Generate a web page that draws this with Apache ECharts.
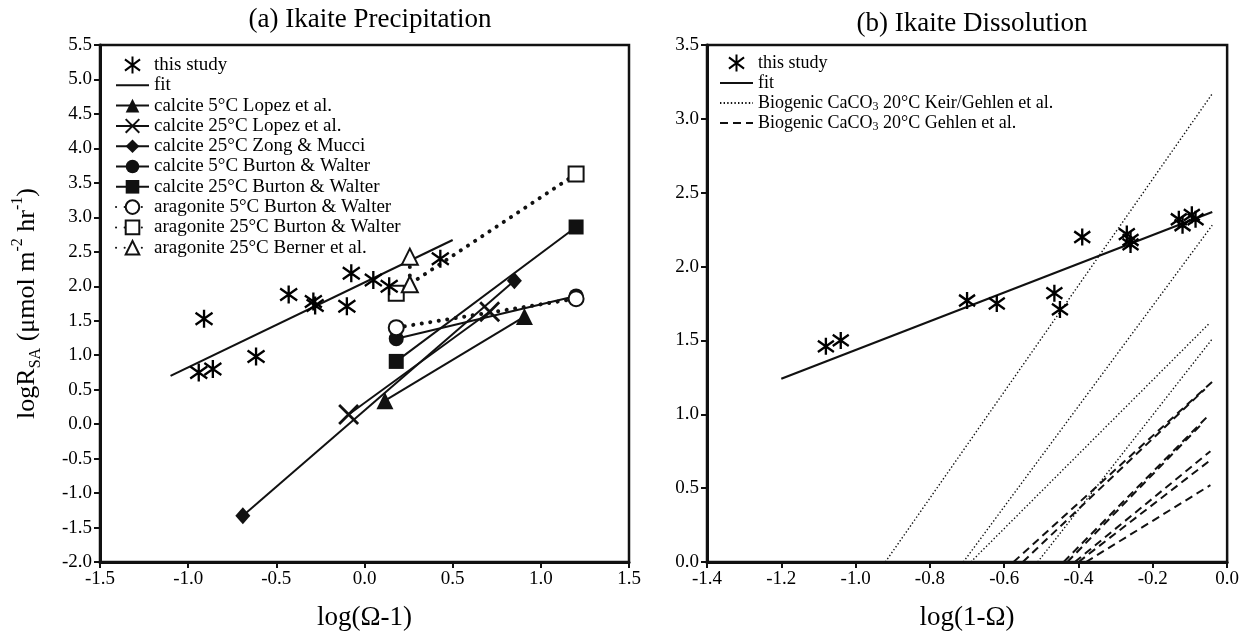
<!DOCTYPE html>
<html>
<head>
<meta charset="utf-8">
<script src="https://cdn.jsdelivr.net/npm/echarts@6/dist/echarts.min.js"></script>
<style>
  html, body { margin: 0; padding: 0; background: #fff; }
  #chart { width: 1242px; height: 636px; }
</style>
</head>
<body>
<div id="chart"></div>
<script>
// ---------- (a) Ikaite precipitation: log(Ω-1) vs logR_SA ----------
const precipStudyX = [-0.94, -0.86, -0.91, -0.615, -0.43, -0.29, -0.28, -0.10, -0.075, 0.05, 0.14, 0.43];
const precipStudyY = [0.75, 0.80, 1.53, 0.98, 1.88, 1.78, 1.72, 1.71, 2.19, 2.09, 2.00, 2.40];
const precipFitX = [-1.10, 0.50];
const precipFitY = [0.70, 2.67];
const calcite5LopezX = [0.116, 0.907];
const calcite5LopezY = [0.34, 1.56];
const calcite25LopezX = [-0.09, 0.71];
const calcite25LopezY = [0.14, 1.63];
const calcite25ZongX = [-0.69, 0.85];
const calcite25ZongY = [-1.33, 2.08];
const calcite5BurtonX = [0.18, 1.20];
const calcite5BurtonY = [1.24, 1.86];
const calcite25BurtonX = [0.18, 1.20];
const calcite25BurtonY = [0.91, 2.86];
const aragonite5BurtonX = [0.18, 1.20];
const aragonite5BurtonY = [1.40, 1.82];
const aragonite25BurtonX = [0.18, 1.20];
const aragonite25BurtonY = [1.90, 3.63];
const aragonite25BernerX = [0.257, 0.257];
const aragonite25BernerY = [2.03, 2.43];

// ---------- (b) Ikaite dissolution: log(1-Ω) vs logR_SA ----------
const dissStudyX = [-1.08, -1.04, -0.70, -0.62, -0.465, -0.45, -0.39, -0.27, -0.26, -0.26, -0.13, -0.12, -0.095, -0.085];
const dissStudyY = [1.46, 1.50, 1.77, 1.75, 1.82, 1.71, 2.20, 2.22, 2.18, 2.15, 2.32, 2.28, 2.35, 2.32];
const dissFitX = [-1.20, -0.04];
const dissFitY = [1.24, 2.37];
// Keir/Gehlen biogenic CaCO3 rate laws: [x0, y0, x1, y1]
const keirLines = [
  [-0.92, 0, -0.04, 3.17],
  [-0.71, 0, -0.04, 2.28],
  [-0.69, 0, -0.05, 1.61],
  [-0.51, 0, -0.04, 1.51]
];
// Gehlen biogenic CaCO3 rate laws: [x0, y0, x1, y1]
const gehlenLines = [
  [-0.575, 0, -0.04, 1.22],
  [-0.55, 0, -0.06, 1.17],
  [-0.44, 0, -0.055, 0.98],
  [-0.43, 0, -0.07, 0.93],
  [-0.41, 0, -0.045, 0.75],
  [-0.40, 0, -0.05, 0.68],
  [-0.38, 0, -0.045, 0.52]
];

const precipTicksY = { min: -2.0, max: 5.5, interval: 0.5 };
const precipTicksX = { min: -1.5, max: 1.5, interval: 0.5 };
const dissTicksY = { min: 0.0, max: 3.5, interval: 0.5 };
const dissTicksX = { min: -1.4, max: 0.0, interval: 0.2 };

const SERIF = '"Liberation Serif", "Times New Roman", "DejaVu Serif", serif';
const INK = '#111';
const STAR = 'path://M0,3 L16,15 M16,3 L0,15 M8,0 L8,18';
const CROSS = 'path://M0,0 L10,10 M10,0 L0,10';

function pts(xs, ys) { return xs.map((x, i) => [x, ys[i]]); }
function fmt1(v) { return (Math.abs(v) < 1e-9 ? 0 : v).toFixed(1); }

const chart = echarts.init(document.getElementById('chart'), null, { renderer: 'canvas' });

function axisCommon(t) {
  return {
    type: 'value', min: t.min, max: t.max, interval: t.interval,
    axisLine: { show: true, onZero: false, lineStyle: { color: INK, width: 3 } },
    axisTick: { show: true, inside: false, length: 6, lineStyle: { color: INK, width: 2 } },
    splitLine: { show: false },
    axisLabel: { color: '#000', fontFamily: SERIF, fontSize: 19, formatter: fmt1 }
  };
}

function markerLine(name, xs, ys, symbol, size, opts) {
  opts = opts || {};
  const empty = symbol.indexOf('empty') === 0;
  return {
    type: 'line', name: name, xAxisIndex: 0, yAxisIndex: 0,
    data: pts(xs, ys), symbol: symbol, symbolSize: size, showSymbol: true,
    color: INK,
    lineStyle: Object.assign({ color: INK, width: 2 }, opts.lineStyle || {}),
    itemStyle: opts.itemStyle || (empty ? { color: INK, borderColor: INK, borderWidth: 2.5 } : { color: INK }),
    z: opts.z || 3
  };
}

const DOTS = { type: [0.1, 8.5], width: 4, cap: 'round' };
const STAR_STYLE = { color: 'transparent', borderColor: '#000', borderWidth: 2.4, opacity: 1 };

const series = [
  {
    type: 'scatter', name: 'this study', xAxisIndex: 0, yAxisIndex: 0,
    data: pts(precipStudyX, precipStudyY), symbol: STAR, symbolSize: [17, 18],
    itemStyle: STAR_STYLE, z: 5
  },
  {
    type: 'line', name: 'fit', xAxisIndex: 0, yAxisIndex: 0,
    data: pts(precipFitX, precipFitY), showSymbol: false, symbol: 'circle',
    itemStyle: { color: 'transparent' }, lineStyle: { color: INK, width: 2.2 }, z: 2
  },
  markerLine('calcite 5°C Lopez et al.', calcite5LopezX, calcite5LopezY, 'triangle', 17),
  markerLine('calcite 25°C Lopez et al.', calcite25LopezX, calcite25LopezY, CROSS, 19,
    { itemStyle: { color: 'transparent', borderColor: INK, borderWidth: 2.8 } }),
  markerLine('calcite 25°C Zong & Mucci', calcite25ZongX, calcite25ZongY, 'diamond', [15, 17]),
  markerLine('calcite 5°C Burton & Walter', calcite5BurtonX, calcite5BurtonY, 'circle', 15),
  markerLine('calcite 25°C Burton & Walter', calcite25BurtonX, calcite25BurtonY, 'rect', 15),
  markerLine('aragonite 5°C Burton & Walter', aragonite5BurtonX, aragonite5BurtonY, 'emptyCircle', 15,
    { lineStyle: DOTS, z: 4 }),
  markerLine('aragonite 25°C Burton & Walter', aragonite25BurtonX, aragonite25BurtonY, 'emptyRect', 15,
    { lineStyle: DOTS, z: 4 }),
  markerLine('aragonite 25°C Berner et al.', aragonite25BernerX, aragonite25BernerY, 'emptyTriangle', 16,
    { lineStyle: DOTS, z: 4 }),

  {
    type: 'scatter', name: 'this study', xAxisIndex: 1, yAxisIndex: 1,
    data: pts(dissStudyX, dissStudyY), symbol: STAR, symbolSize: [16, 17],
    itemStyle: STAR_STYLE, z: 5
  },
  {
    type: 'line', name: 'fit', xAxisIndex: 1, yAxisIndex: 1,
    data: pts(dissFitX, dissFitY), showSymbol: false, symbol: 'circle',
    itemStyle: { color: 'transparent' }, lineStyle: { color: INK, width: 2.2 }, z: 2
  }
];

keirLines.forEach(l => series.push({
  type: 'line', name: 'Biogenic CaCO3 20°C Keir/Gehlen et al.', xAxisIndex: 1, yAxisIndex: 1,
  data: [[l[0], l[1]], [l[2], l[3]]], showSymbol: false, symbol: 'circle',
  itemStyle: { color: 'transparent' },
  lineStyle: { color: INK, width: 1.4, type: [1.4, 2.2] }, z: 2
}));
gehlenLines.forEach(l => series.push({
  type: 'line', name: 'Biogenic CaCO3 20°C Gehlen et al.', xAxisIndex: 1, yAxisIndex: 1,
  data: [[l[0], l[1]], [l[2], l[3]]], showSymbol: false, symbol: 'circle',
  itemStyle: { color: 'transparent' },
  lineStyle: { color: INK, width: 2, type: [8, 5] }, z: 2
}));

function legendText(size) {
  return {
    color: '#000', fontFamily: SERIF, fontSize: size, lineHeight: 20,
    rich: {
      n: { fontFamily: SERIF, fontSize: size, lineHeight: 20, color: '#000' },
      s: { fontFamily: SERIF, fontSize: 12, lineHeight: 12, verticalAlign: 'bottom', color: '#000' }
    }
  };
}
function legendFmt(name) {
  const i = name.indexOf('CaCO3');
  if (i < 0) return name;
  return '{n|' + name.slice(0, i) + 'CaCO}{s|3}{n|' + name.slice(i + 5) + '}';
}

const TITLE_STYLE = { fontFamily: SERIF, fontSize: 27, fontWeight: 'normal', color: '#000' };
const NAME_STYLE = { fontFamily: SERIF, fontSize: 27, color: '#000' };

const option = {
  animation: false,
  backgroundColor: '#fff',
  textStyle: { fontFamily: SERIF },
  title: [
    { text: '(a) Ikaite Precipitation', left: 365, top: 1, textAlign: 'center', textStyle: TITLE_STYLE },
    { text: '(b) Ikaite Dissolution', left: 967, top: 5, textAlign: 'center', textStyle: TITLE_STYLE }
  ],
  grid: [
    { left: 100, top: 45, width: 529, height: 518, show: true, borderColor: INK, borderWidth: 2.5, backgroundColor: 'transparent' },
    { left: 707, top: 45, width: 521, height: 517, show: true, borderColor: INK, borderWidth: 2.5, backgroundColor: 'transparent' }
  ],
  xAxis: [
    Object.assign(axisCommon(precipTicksX), {
      gridIndex: 0, name: 'log(Ω-1)', nameLocation: 'middle', nameGap: 42, nameTextStyle: NAME_STYLE
    }),
    Object.assign(axisCommon(dissTicksX), {
      gridIndex: 1, name: 'log(1-Ω)', nameLocation: 'middle', nameGap: 42, nameTextStyle: NAME_STYLE
    })
  ],
  yAxis: [
    Object.assign(axisCommon(precipTicksY), {
      gridIndex: 0,
      name: '{n|logR}{s|SA}{n| (μmol m}{p|-2}{n| hr}{p|-1}{n|)}',
      nameLocation: 'middle', nameGap: 56, nameRotate: 90,
      nameTextStyle: {
        fontFamily: SERIF, fontSize: 26, color: '#000',
        rich: {
          n: { fontFamily: SERIF, fontSize: 26, lineHeight: 34, color: '#000' },
          s: { fontFamily: SERIF, fontSize: 16, lineHeight: 16, verticalAlign: 'bottom', color: '#000' },
          p: { fontFamily: SERIF, fontSize: 16, lineHeight: 16, verticalAlign: 'top', color: '#000' }
        }
      }
    }),
    Object.assign(axisCommon(dissTicksY), { gridIndex: 1 })
  ],
  legend: [
    {
      orient: 'vertical', left: 110, top: 50, itemWidth: 33, itemHeight: 17, itemGap: 0.3,
      selectedMode: false, textStyle: legendText(19), formatter: legendFmt,
      data: ['this study', 'fit', 'calcite 5°C Lopez et al.', 'calcite 25°C Lopez et al.',
        'calcite 25°C Zong & Mucci', 'calcite 5°C Burton & Walter', 'calcite 25°C Burton & Walter',
        'aragonite 5°C Burton & Walter', 'aragonite 25°C Burton & Walter', 'aragonite 25°C Berner et al.']
    },
    {
      orient: 'vertical', left: 714, top: 48, itemWidth: 33, itemHeight: 17, itemGap: 0,
      selectedMode: false, textStyle: legendText(18), formatter: legendFmt,
      data: ['this study', 'fit', 'Biogenic CaCO3 20°C Keir/Gehlen et al.', 'Biogenic CaCO3 20°C Gehlen et al.']
    }
  ],
  series: series
};

chart.setOption(option);
</script>
</body>
</html>
